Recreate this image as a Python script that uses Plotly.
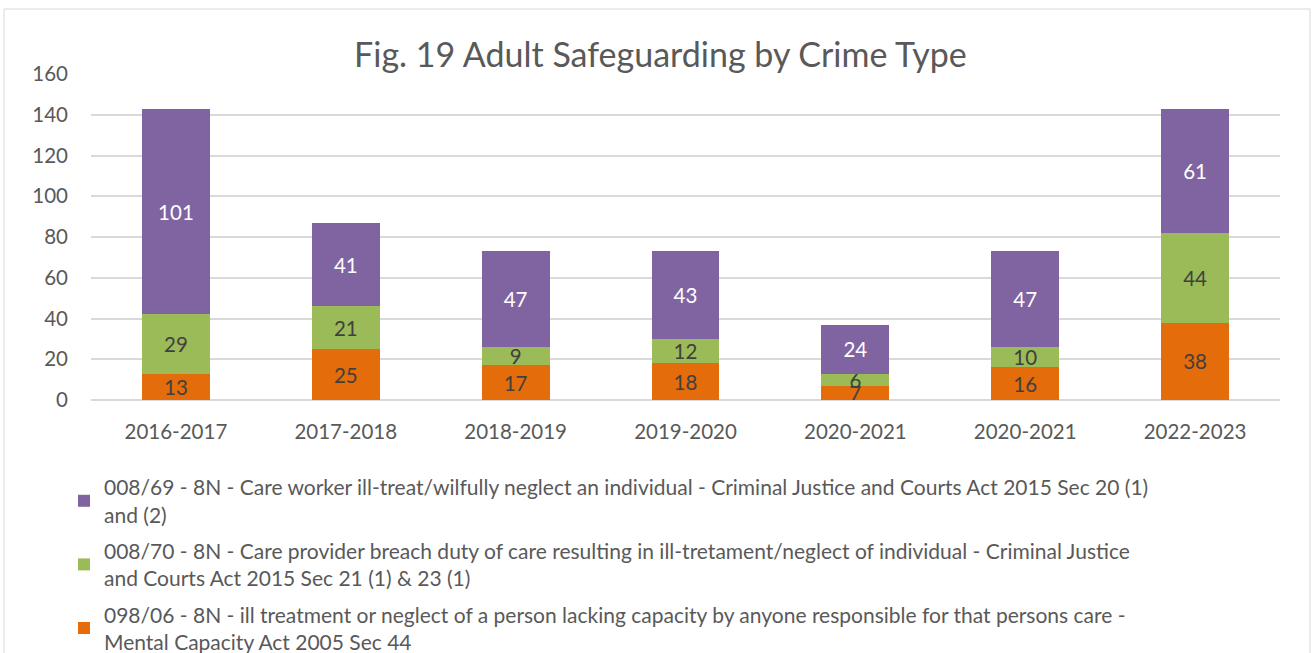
import plotly.graph_objects as go

categories = ["2016-2017", "2017-2018", "2018-2019", "2019-2020", "2020-2021", "2020-2021", "2022-2023"]
care_worker = [101, 41, 47, 43, 24, 47, 61]
care_provider = [29, 21, 9, 12, 6, 10, 44]
lacking_capacity = [13, 25, 17, 18, 7, 16, 38]
y_ticks = [0, 20, 40, 60, 80, 100, 120, 140, 160]

name_worker = ("008/69 - 8N - Care worker ill-treat/wilfully neglect an individual - Criminal Justice and Courts Act 2015 Sec 20 (1)"
               "<br>and (2)")
name_provider = ("008/70 - 8N - Care provider breach duty of care resulting in ill-tretament/neglect of individual - Criminal Justice"
                 "<br>and Courts Act 2015 Sec 21 (1) & 23 (1)")
name_capacity = ("098/06 - 8N - ill treatment or neglect of a person lacking capacity by anyone responsible for that persons care -"
                 "<br>Mental Capacity Act 2005 Sec 44")

FONT = "Lato"
GREY = "#595959"
x = list(range(len(categories)))

fig = go.Figure()
series = [
    (name_capacity, lacking_capacity, "#E46C0A", "#404040", 3),
    (name_provider, care_provider, "#9BBB59", "#404040", 2),
    (name_worker, care_worker, "#8064A2", "#FFFFFF", 1),
]
for name, vals, col, tcol, rank in series:
    fig.add_trace(go.Bar(
        x=x, y=vals, name=name, width=0.4,
        marker=dict(color=col, line=dict(width=0)),
        text=vals, texttemplate="%{y}", textposition="inside",
        insidetextanchor="middle", textangle=0,
        textfont=dict(family=FONT, size=20.5, color=tcol),
        legendrank=rank, legendgroup="g%d" % rank, hoverinfo="skip",
    ))

L, R, T, B = 91, 33, 74, 253
W, H = 1313, 653
pw, ph = W - L - R, H - T - B

fig.update_layout(
    width=W, height=H,
    barmode="stack",
    plot_bgcolor="white", paper_bgcolor="white",
    margin=dict(l=L, r=R, t=T, b=B, autoexpand=False),
    font=dict(family=FONT, color=GREY, size=20),
    title=dict(text="Fig. 19 Adult Safeguarding by Crime Type", x=0.503, xanchor="center",
               y=1 - 55 / H, yanchor="middle", font=dict(family=FONT, size=34, color=GREY)),
    xaxis=dict(tickvals=x, ticktext=categories, range=[-0.5, len(categories) - 0.5],
               showgrid=False, zeroline=False, showline=False, ticks="",
               tickfont=dict(family=FONT, size=20.5, color=GREY), ticklabelstandoff=17),
    yaxis=dict(range=[0, 160], tickvals=y_ticks, showgrid=True, gridcolor="#D9D9D9", gridwidth=1.5,
               zeroline=True, zerolinecolor="#D9D9D9", zerolinewidth=1.5, showline=False, ticks="",
               tickfont=dict(family=FONT, size=20.5, color=GREY), ticklabelstandoff=22),
    legend=dict(orientation="v", traceorder="grouped", x=(64 - L) / pw, xanchor="left",
                yref="container", y=1 - 467 / H, yanchor="top", tracegroupgap=6,
                font=dict(family=FONT, size=21, color=GREY), bgcolor="rgba(0,0,0,0)"),
    uniformtext=dict(minsize=20.5, mode="show"),
    showlegend=True,
)

fig.add_shape(type="rect", xref="paper", yref="paper",
              x0=(4 - L) / pw, x1=(1310 - L) / pw, y0=(400 - 660) / ph, y1=(400 - 9) / ph,
              line=dict(color="#D9D9D9", width=1), fillcolor="rgba(0,0,0,0)", layer="below")

fig.write_html("out.html", config={"displayModeBar": False},
               post_script="document.body.style.margin='0';document.body.style.overflow='hidden';")
